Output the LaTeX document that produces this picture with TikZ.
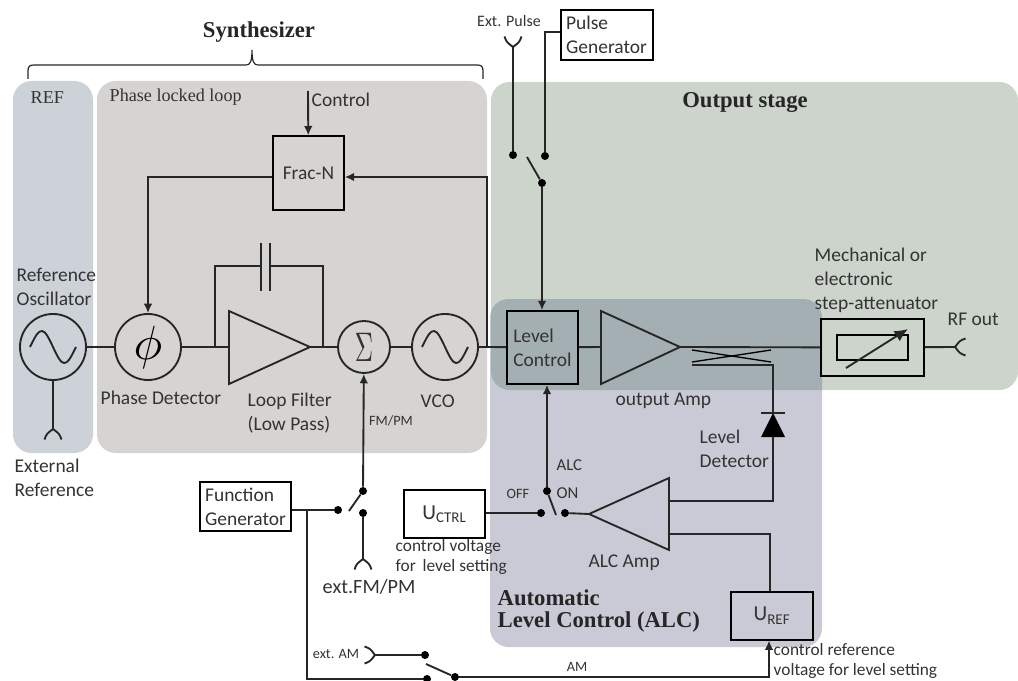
\documentclass[tikz,border=0pt]{standalone}
\usepackage{fontspec}
\setmainfont{Carlito}
\newfontfamily\headfont{Liberation Serif}
\usetikzlibrary{arrows.meta}

\definecolor{refgray}{HTML}{CDD1D8}
\definecolor{pllgray}{HTML}{D6D4D2}
\definecolor{outgreen}{HTML}{CDD4CC}
\definecolor{alcblue}{HTML}{CACAD6}
\definecolor{overlapgray}{HTML}{A3AFB2}
\definecolor{labelgray}{HTML}{333333}

\tikzset{
	wire/.style={line width=1.4pt, black!85},
	tip/.style={-{Latex[length=7pt, width=6.5pt]}},
	block/.style={draw=black, line width=1.5pt, inner sep=0pt, align=left, text=labelgray, font=\fontsize{14.6}{18}\selectfont},
	ringblock/.style={draw=black!85, line width=1.4pt, circle, inner sep=0pt},
	contact/.style={circle, fill=black, inner sep=0pt, minimum size=6pt},
	textlabel/.style={anchor=west, text=labelgray, align=left, font=\fontsize{14.6}{18}\selectfont},
	smalllabel/.style={text=labelgray, font=\fontsize{10.7}{12}\selectfont},
	heading/.style={text=black!85, font=\headfont\bfseries\fontsize{17}{20}\selectfont},
	subheading/.style={anchor=west, text=labelgray, font=\headfont\fontsize{13.6}{15}\selectfont},
	sinewave/.pic={
		\draw[wire] (-23,0) .. controls (-17,-12) and (-15,-16) .. (-11,-16) .. controls (-4,-16) and (4,16) .. (11,16) .. controls (15,16) and (17,12) .. (23,0);
	},
	antenna/.pic={
		\draw[wire] (-8.5,10.5) .. controls (-6.5,5) .. (0,0) .. controls (6.5,5) .. (8.5,10.5);
	}
}

\begin{document}
\begin{tikzpicture}[x=0.75pt, y=-0.75pt]
	\useasboundingbox (0,0) rectangle (1018,681);

	%% Hintergrund
	\fill[refgray, rounded corners=14pt] (13,81) rectangle (93,453);
	\fill[pllgray, rounded corners=14pt] (97,81) rectangle (487,453);
	\fill[outgreen, rounded corners=14pt] (491,82) rectangle (1018,390);
	\fill[alcblue, rounded corners=14pt] (490,299) rectangle (822,647);
	\begin{scope}
		\clip[rounded corners=14pt] (491,82) rectangle (1018,390);
		\fill[overlapgray, rounded corners=14pt] (490,299) rectangle (822,647);
	\end{scope}

	%%%%%%%%%%%%%%%%

	%% Synthesizer
	\node[heading] (synthLabel) at (259,32) {Synthesizer};
	\coordinate (braceLeft) at (28,79);
	\coordinate (braceRight) at (483,79);
	\coordinate (bracePeak) at (252,50);
	\draw[line width=0.9pt, black!85] (braceLeft) -- (28,71) .. controls (28,66) and (30,65) .. (34,65) -- (246,65) .. controls (250,65) and (252,62) .. (bracePeak) .. controls (252,62) and (254,65) .. (258,65) -- (477,65) .. controls (481,65) and (483,66) .. (483,71) -- (braceRight);
	\node[subheading] (refLabel) at (26,98) {REF};
	\node[subheading] (pllLabel) at (105,97) {Phase locked loop};

	\node[ringblock, minimum size=49.5pt] (refOsc) at (53,347) {};
	\pic at (refOsc) {sinewave};
	\node[ringblock, minimum size=49.5pt] (phaseDet) at (148,347) {};
	\node[scale=3.6] (phiSign) at (148,347) {$\phi$};
	\node[ringblock, minimum size=39pt] (sumBlock) at (364,347) {};
	\node[xscale=1.9, yscale=3.1, text=black!80] (sumSign) at (364,347) {$\Sigma$};
	\node[ringblock, minimum size=49.5pt] (vco) at (445,347) {};
	\pic at (vco) {sinewave};
	\node[block, minimum width=53pt, minimum height=55pt, align=center] (fracN) at (308.5,173) {Frac-N};

	\coordinate (controlIn) at (308,91);
	\coordinate (extRef) at (53,429);
	\coordinate (fracLeft) at (148,177);
	\coordinate (fracRight) at (487,177);
	\coordinate (vcoTap) at (487,347);
	\coordinate (filterIn) at (215,347);
	\coordinate (filterOut) at (323,347);
	\coordinate (filterInUp) at (215,266);
	\coordinate (filterOutUp) at (323,266);
	\coordinate (capA) at (261,266);
	\coordinate (capB) at (270,266);
	\coordinate (loopIn) at (229,347);
	\coordinate (loopTop) at (229,311);
	\coordinate (loopBot) at (229,384);
	\coordinate (loopTip) at (310,347);

	\draw[wire] (loopTop) -- (loopTip) -- (loopBot) -- cycle;
	\draw[wire] (refOsc) -- (phaseDet);
	\draw[wire] (phaseDet) -- (loopIn);
	\draw[wire] (loopTip) -- (sumBlock);
	\draw[wire] (sumBlock) -- (vco);
	\draw[wire] (vco) -- (vcoTap);
	\draw[wire] (refOsc) -- (extRef);
	\pic at (extRef) {antenna};
	\draw[wire] (filterIn) -- (filterInUp) -- (capA);
	\draw[wire] (filterOut) -- (filterOutUp) -- (capB);
	\draw[wire] (261,243) -- (261,291);
	\draw[wire] (270,243) -- (270,291);
	\draw[wire, tip] (controlIn) -- (fracN);
	\draw[wire, tip] (fracN.west |- fracLeft) -- (fracLeft) -- (phaseDet);
	\draw[wire, tip] (vcoTap) -- (fracRight) -- (fracN.east |- fracRight);

	\node[textlabel] (controlLabel) at (307,100) {Control};
	\node[textlabel] (refOscLabel) at (12,287) {Reference\\Oscillator};
	\node[textlabel] (phaseLabel) at (96,398) {Phase Detector};
	\node[textlabel] (loopLabel) at (243,413) {Loop Filter\\(Low Pass)};
	\node[textlabel] (vcoLabel) at (416,401) {VCO};
	\node[smalllabel] (fmLabel) at (391,421) {FM/PM};
	\node[textlabel] (extRefLabel) at (10,478) {External\\Reference};

	%%%%%%%%%%%%%%%%

	%% Ausgangsstufe
	\node[heading] (outLabel) at (745,102) {Output stage};

	\node[block, minimum width=53pt, minimum height=54.5pt] (levelCtl) at (542.5,347.5) {Level\\Control};
	\node[block, minimum width=77pt, minimum height=42.5pt] (attBox) at (872.5,347.5) {};
	\node[block, minimum width=53pt, minimum height=19pt, line width=1.3pt] (attInner) at (872.5,347.5) {};
	\coordinate (attArrowA) at (846,368);
	\coordinate (attArrowB) at (908,329);
	\draw[wire, -{Latex[length=10pt, width=9pt]}] (attArrowA) -- (attArrowB);

	\coordinate (ampIn) at (601,347);
	\coordinate (ampTop) at (601,311);
	\coordinate (ampBot) at (601,384);
	\coordinate (ampTip) at (680,347);
	\draw[wire] (ampTop) -- (ampTip) -- (ampBot) -- cycle;
	\draw[wire] (vcoTap) -- (levelCtl);
	\draw[wire] (levelCtl) -- (ampIn);
	\draw[wire] (ampTip) -- (attBox);

	\coordinate (rfOut) at (955,347);
	\draw[wire] (attBox) -- (rfOut);
	\pic[rotate=90] at (rfOut) {antenna};
	\node[textlabel] (rfLabel) at (943,319) {RF out};
	\node[textlabel] (attLabel) at (810,280) {Mechanical or\\electronic\\step-attenuator};

	%% Richtkoppler
	\coordinate (cplA) at (692,350);
	\coordinate (cplB) at (771,362);
	\coordinate (cplC) at (692,362);
	\coordinate (cplD) at (771,350);
	\draw[line width=1pt] (cplA) -- (cplB);
	\draw[line width=1pt] (cplC) -- (cplD);

	%%%%%%%%%%%%%%%%

	%% Pulsmodulation
	\node[block, minimum width=69pt, minimum height=37pt] (pulseGen) at (606.5,35) {Pulse\\Generator};
	\coordinate (extPulse) at (513,47);
	\coordinate (pulseTurn) at (545,32);
	\node[contact] (pulseA) at (513,155) {};
	\node[contact] (pulseB) at (545,156) {};
	\node[contact] (pulseC) at (542,183) {};
	\coordinate (pulseArmA) at (527,157);
	\draw[wire] (pulseArmA) -- (pulseC);
	\draw[wire] (extPulse) -- (pulseA);
	\pic[rotate=180] at (extPulse) {antenna};
	\draw[wire] (pulseGen.west |- pulseTurn) -- (pulseTurn) -- (pulseB);
	\draw[wire, tip] (pulseC) -- (pulseC |- levelCtl.north);
	\node[smalllabel, font=\fontsize{12}{14}\selectfont] (extPulseLabel) at (509,21) {Ext. Pulse};

	%%%%%%%%%%%%%%%%

	%% Funktionsgenerator
	\node[block, minimum width=68pt, minimum height=36.5pt] (funcGen) at (245.5,506.5) {Function\\Generator};
	\coordinate (funcBranch) at (307,510);
	\node[contact] (fmA) at (338,510) {};
	\node[contact] (fmB) at (363,491) {};
	\node[contact] (fmC) at (363,513) {};
	\coordinate (fmArm) at (349,511);
	\coordinate (extFm) at (363,559);
	\draw[wire] (fmArm) -- (fmB);
	\draw[wire] (funcGen.east |- funcBranch) -- (fmA);
	\draw[wire, tip] (fmB) -- (sumBlock);
	\draw[wire] (fmC) -- (extFm);
	\pic at (extFm) {antenna};
	\node[textlabel, font=\fontsize{15.2}{18}\selectfont] (extFmLabel) at (318,587) {ext.FM/PM};

	\coordinate (amTurn) at (307,679);
	\node[contact] (amA) at (425,655) {};
	\node[contact] (amB) at (427,679) {};
	\node[contact] (amC) at (455,677) {};
	\coordinate (amArm) at (426,664);
	\coordinate (extAm) at (375,655);
	\draw[wire] (funcBranch) -- (amTurn) -- (amB);
	\draw[wire] (extAm) -- (amA);
	\pic[rotate=-90] at (extAm) {antenna};
	\draw[wire] (amArm) -- (amC);
	\node[smalllabel] (extAmLabel) at (336,654) {ext. AM};
	\node[smalllabel] (amLabel) at (577,667) {AM};

	%%%%%%%%%%%%%%%%

	%% Pegelregelung
	\node[heading, anchor=west, align=left, font=\headfont\bfseries\fontsize{17}{16.5}\selectfont] (alcLabel) at (493,611) {Automatic\\Level Control (ALC)};

	\node[block, minimum width=61pt, minimum height=36pt, align=center, font=\fontsize{16}{18}\selectfont] (uCtrl) at (444.5,514) {U\textsubscript{CTRL}};
	\node[block, minimum width=61pt, minimum height=36pt, align=center, font=\fontsize{16}{18}\selectfont] (uRef) at (772,615.5) {U\textsubscript{REF}};

	\node[contact] (alcOff) at (541,513) {};
	\node[contact] (alcCom) at (547,491) {};
	\node[contact] (alcOn) at (565,513) {};
	\coordinate (alcArm) at (556,515);
	\draw[wire] (alcCom) -- (alcArm);
	\draw[wire] (uCtrl.east |- alcOff) -- (alcOff);
	\draw[wire, tip] (alcCom) -- (alcCom |- levelCtl.south);

	\coordinate (alcTip) at (589,514);
	\coordinate (alcTop) at (669,478);
	\coordinate (alcBot) at (669,550);
	\draw[wire] (alcTop) -- (alcTip) -- (alcBot) -- cycle;
	\draw[wire] (alcOn) -- (alcTip);

	%% Detektor
	\coordinate (cplOutA) at (692,365);
	\coordinate (cplOutB) at (773,365);
	\coordinate (diodeBar) at (773,413);
	\coordinate (diodeBase) at (773,437);
	\coordinate (alcInA) at (669,501);
	\coordinate (alcInCorner) at (773,501);
	\draw[wire] (cplOutA) -- (cplOutB) -- (diodeBar);
	\draw[wire] (alcInA) -- (alcInCorner) -- (diodeBase);
	\fill[black] (761,437) -- (773,413) -- (785,437) -- cycle;
	\draw[wire] (761,413) -- (785,413);

	\coordinate (alcInB) at (669,534);
	\coordinate (alcInBCorner) at (770,534);
	\draw[wire] (alcInB) -- (alcInBCorner) -- (alcInBCorner |- uRef.north);
	\coordinate (amCorner) at (769,677);
	\draw[wire, tip] (amC) -- (amCorner) -- (amCorner |- uRef.south);

	\node[textlabel] (ampLabel) at (611,401) {output Amp};
	\node[textlabel] (detLabel) at (695,449) {Level\\Detector};
	\node[textlabel, font=\fontsize{12.5}{14}\selectfont] (alcSw) at (552,465) {ALC};
	\node[textlabel, font=\fontsize{12.5}{14}\selectfont] (onLabel) at (552,493) {ON};
	\node[smalllabel] (offLabel) at (518,494) {OFF};
	\node[textlabel] (alcAmpLabel) at (584,563) {ALC Amp};
	\node[textlabel, font=\fontsize{13}{15.7}\selectfont] (ctrlLabel) at (391,557) {control voltage\\for\, level setting};
	\node[textlabel, font=\fontsize{13}{15}\selectfont] (refVoltLabel) at (769,661) {control reference\\voltage for level setting};
\end{tikzpicture}
\end{document}
